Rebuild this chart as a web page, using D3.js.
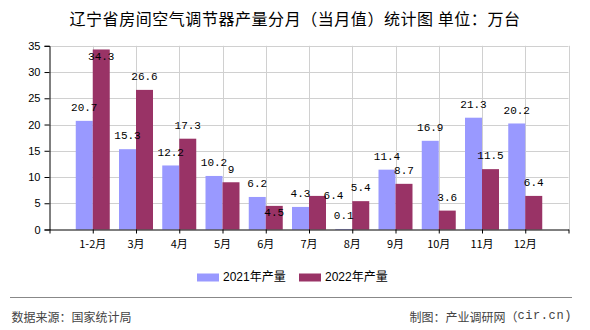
<!DOCTYPE html>
<html>
<head>
<meta charset="utf-8">
<script src="https://cdn.jsdelivr.net/npm/d3@7/dist/d3.min.js"></script>
<style>
  html, body { margin: 0; padding: 0; background: #fff; }
  svg { display: block; }
</style>
</head>
<body>
<div id="chart"></div>
<script>
const categories = ["1-2月", "3月", "4月", "5月", "6月", "7月", "8月", "9月", "10月", "11月", "12月"];
const values2021 = [20.7, 15.3, 12.2, 10.2, 6.2, 4.3, 0.1, 11.4, 16.9, 21.3, 20.2];
const values2022 = [34.3, 26.6, 17.3, 9, 4.5, 6.4, 5.4, 8.7, 3.6, 11.5, 6.4];
const yTicks = [0, 5, 10, 15, 20, 25, 30, 35];
const seriesNames = ["2021年产量", "2022年产量"];
const seriesColors = ["#9999FF", "#993366"];
const titleText = "辽宁省房间空气调节器产量分月（当月值）统计图 单位：万台";
const sourceText = "数据来源：国家统计局";
const creditText = "制图：产业调研网（";
const creditLatin = "cir.cn)";

const W = 590, H = 330;
const pLeft = 49.5, pRight = 568.5, pTop = 45.8, pBottom = 229.5;
const cjk = "'Noto Sans CJK SC', 'Noto Sans', sans-serif";
const sans = "'Liberation Sans', Arial, 'Noto Sans CJK SC', sans-serif";
const mono = "'Liberation Mono', 'DejaVu Sans Mono', monospace";

const svg = d3.select("#chart").append("svg").attr("width", W).attr("height", H);

const x = d3.scaleLinear().domain([0, categories.length + 1]).range([pLeft, pRight]);
const y = d3.scaleLinear().domain([0, 35]).range([pBottom, pTop]);
const step = x(1) - x(0);
const barW = step * 0.393;

// Title
svg.append("text").attr("x", W / 2).attr("y", 17.5)
  .attr("text-anchor", "middle").attr("dominant-baseline", "central")
  .style("font-family", cjk).style("font-size", "16px").style("letter-spacing", "0.55px").attr("fill", "#000")
  .text(titleText);

// Grid
const grid = svg.append("g");
grid.selectAll("line.h").data(yTicks.filter(t => t > 0)).enter().append("line")
  .attr("x1", pLeft).attr("x2", pRight)
  .attr("y1", d => Math.round(y(d)) + 0.5).attr("y2", d => Math.round(y(d)) + 0.5)
  .attr("stroke", "#d0d0d0").attr("stroke-width", 1);
grid.selectAll("line.v").data(d3.range(1, categories.length + 2)).enter().append("line")
  .attr("x1", d => Math.round(x(d)) + 0.5).attr("x2", d => Math.round(x(d)) + 0.5)
  .attr("y1", pTop).attr("y2", pBottom)
  .attr("stroke", "#d0d0d0").attr("stroke-width", 1);

// Bars
const series = [values2021, values2022];
series.forEach((vals, s) => {
  svg.append("g").selectAll("rect").data(vals).enter().append("rect")
    .attr("x", (d, i) => x(i + 1) + (s === 0 ? -barW : 0))
    .attr("width", barW)
    .attr("y", d => y(d))
    .attr("height", d => Math.max(0.6, y(0) - y(d)))
    .attr("fill", seriesColors[s]);
});

// Axes
const yAxis = d3.axisLeft(y).tickValues(yTicks).tickSize(5).tickPadding(4);
const gy = svg.append("g").attr("transform", `translate(${pLeft},0)`).call(yAxis);
gy.select(".domain").attr("stroke", "#000");
gy.selectAll(".tick line").attr("stroke", "#000");
gy.selectAll("text").style("font-family", sans).style("font-size", "11px").attr("fill", "#000");

const xAxis = d3.axisBottom(x).tickValues(d3.range(0, categories.length + 2)).tickSize(4).tickSizeOuter(0).tickFormat(() => "");
const gx = svg.append("g").attr("transform", `translate(0,${pBottom})`).call(xAxis);
gx.select(".domain").attr("stroke", "#000");
gx.selectAll(".tick line").attr("stroke", "#000");

svg.append("g").selectAll("text").data(categories).enter().append("text")
  .attr("x", (d, i) => x(i + 1)).attr("y", 243)
  .attr("text-anchor", "middle").attr("dominant-baseline", "central")
  .style("font-family", cjk).style("font-size", "11px").attr("fill", "#000")
  .text(d => d);

// Value labels with simple overlap avoidance
const charW = 6.25, labH = 12.5;
const placed = [];
function overlaps(a, b) {
  return Math.abs(a.cx - b.cx) < (a.w + b.w) / 2 && Math.abs(a.cy - b.cy) < labH;
}
const labels = [];
series.forEach((vals, s) => {
  vals.forEach((v, i) => {
    const txt = String(v);
    const w = txt.length * charW;
    const bx = x(i + 1) + (s === 0 ? -barW / 2 : barW / 2);
    const by = y(v);
    const cands = [
      { cx: bx, cy: by - 12.7 },
      { cx: bx, cy: by + 7.6 },
      { cx: bx + 16, cy: by }
    ];
    let pick = cands[0];
    for (const c of cands) {
      const box = { cx: c.cx, cy: c.cy, w };
      if (c.cy - labH / 2 < pTop - 2) continue;
      if (placed.some(p => overlaps(box, p))) continue;
      pick = c; break;
    }
    placed.push({ cx: pick.cx, cy: pick.cy, w });
    labels.push({ txt, cx: pick.cx, cy: pick.cy });
  });
});
svg.append("g").selectAll("text").data(labels).enter().append("text")
  .attr("x", d => d.cx).attr("y", d => d.cy)
  .attr("text-anchor", "middle").attr("dominant-baseline", "central")
  .style("font-family", mono).style("font-size", "11px").attr("fill", "#000")
  .text(d => d.txt);

// Legend
const legendX = [197, 299];
seriesNames.forEach((n, s) => {
  svg.append("rect").attr("x", legendX[s]).attr("y", 273.5).attr("width", 22).attr("height", 8)
    .attr("fill", seriesColors[s]);
  svg.append("text").attr("x", legendX[s] + 26).attr("y", 277)
    .attr("dominant-baseline", "central")
    .style("font-family", sans).style("font-size", "12px").attr("fill", "#000")
    .text(n);
});

// Footer
svg.append("line").attr("x1", 10).attr("x2", 572).attr("y1", 297.5).attr("y2", 297.5)
  .attr("stroke", "#888").attr("stroke-width", 1.2);
svg.append("text").attr("x", 11.5).attr("y", 316).attr("dominant-baseline", "central")
  .style("font-family", cjk).style("font-size", "12px").attr("fill", "#444").text(sourceText);
const credit = svg.append("text").attr("x", 572).attr("y", 316).attr("text-anchor", "end").attr("dominant-baseline", "central")
  .style("font-family", cjk).style("font-size", "12px").attr("fill", "#444");
credit.append("tspan").text(creditText);
credit.append("tspan").style("font-family", mono).style("letter-spacing", "0.6px").text(creditLatin);
</script>
</body>
</html>
